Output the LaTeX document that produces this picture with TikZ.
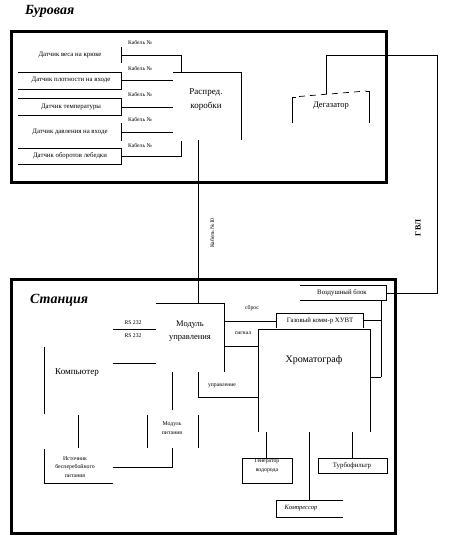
\documentclass[tikz,border=0pt]{standalone}
\usepackage{fontspec}
\setmainfont{Liberation Serif}
\begin{document}
\begin{tikzpicture}[x=1pt,y=-1pt,
  ln/.style={line width=0.7pt},
  frame/.style={line width=3pt},
  small/.style={font=\fontsize{6.8}{8.5}\selectfont,inner sep=0pt,align=center},
  tiny/.style={font=\fontsize{5.7}{7}\selectfont,inner sep=0pt,align=center},
  mid/.style={font=\fontsize{8.5}{13}\selectfont,inner sep=0pt,align=center},
  ttl/.style={font=\fontsize{14}{15}\selectfont\bfseries\itshape,inner sep=0pt,anchor=west}]
\useasboundingbox (0,0) rectangle (449,544);

% ---------- Буровая ----------
\node[ttl] (bur) at (25,11) {Буровая};
\draw[frame] (11,31) rectangle (386,182);

\node[small] (s1) at (70,55) {Датчик веса на крюке};
\node[small] (s2) at (71,80) {Датчик плотности на входе};
\node[small] (s3) at (71,107) {Датчик температуры};
\node[small] (s4) at (70,132) {Датчик давления на входе};
\node[small] (s5) at (70,156) {Датчик оборотов лебедки};

\draw[ln] (121,47) -- (121,63);
\draw[ln] (18,72) -- (121,72) -- (121,89) -- (18,89);
\draw[ln] (18,98) -- (121,98) -- (121,115) -- (18,115);
\draw[ln] (121,123) -- (121,141);
\draw[ln] (18,148) -- (121,148) -- (121,164) -- (18,164);

\draw[ln] (121,55) -- (181,55) -- (181,72);
\draw[ln] (121,80) -- (173,80);
\draw[ln] (121,107) -- (173,107);
\draw[ln] (121,132) -- (173,132);
\draw[ln] (121,156) -- (181,156) -- (181,141);

\node[tiny] (c1) at (140,42) {Кабель №};
\node[tiny] (c2) at (140,68) {Кабель №};
\node[tiny] (c3) at (140,94) {Кабель №};
\node[tiny] (c4) at (140,119) {Кабель №};
\node[tiny] (c5) at (140,145) {Кабель №};

\draw[ln] (173,72) -- (241,72) -- (241,140);
\node[mid,font=\fontsize{9}{14}\selectfont] (rk) at (206,100) {Распред.\\коробки};

% Дегазатор
\draw[ln] (292,123) -- (292,97) -- (296,97);
\draw[ln,dash pattern=on 6pt off 5pt] (299,96.5) -- (366,91);
\draw[ln] (366,91) -- (369,91) -- (369,123);
\node[mid] (deg) at (331,106) {Дегазатор};

% ГВЛ
\draw[ln] (326,94) -- (326,55) -- (437,55) -- (437,293) -- (386,293);
\node[font=\fontsize{8}{8}\selectfont\bfseries,inner sep=0pt,rotate=90] (gvl) at (418,228) {ГВЛ};

% кабель
\draw[ln] (198,140) -- (198,303);
\node[tiny,rotate=90] (c10) at (212,233) {Кабель №10};

% ---------- Станция ----------
\draw[frame] (11,279) rectangle (395,533);
\node[ttl] (st) at (30,300) {Станция};

% Модуль управления
\draw[ln] (156,303) -- (224,303) -- (224,372);
\node[mid] (mu) at (190,331) {Модуль\\управления};

% RS 232
\draw[ln] (113,329) -- (156,329);
\draw[ln] (113,363) -- (156,363);
\node[tiny] (rs1) at (133,323) {RS 232};
\node[tiny] (rs2) at (133,336) {RS 232};

% Компьютер
\draw[ln] (44,347) -- (44,414);
\node[mid,font=\fontsize{9}{10}\selectfont] (pc) at (77,373) {Компьютер};
\draw[ln] (78,415) -- (78,448);

% ИБП
\draw[ln] (44,449) -- (44,483) -- (113,483);
\node[tiny,font=\fontsize{5.8}{8.5}\selectfont] (ups) at (75,467) {Источник\\бесперебойного\\питания};
\draw[ln] (113,467) -- (172,467) -- (172,448);

% Модуль питания
\draw[ln] (147,415) -- (147,448);
\draw[ln] (198,415) -- (198,448);
\node[tiny,font=\fontsize{5.8}{9}\selectfont] (mp) at (172,428) {Модуль\\питания};
\draw[ln] (172,372) -- (172,410);

% управление
\draw[ln] (198,372) -- (198,397) -- (258,397);
\node[tiny] (upr) at (222,386) {управление};

% Газовый
\draw[ln] (224,321) -- (276,321);
\draw[ln] (276,328) -- (276,313) -- (363,313) -- (363,328);
\node[small] (gaz) at (320,321) {Газовый комм-р ХУВТ};
\node[tiny] (sbr) at (252,308) {сброс};

% сигнал
\draw[ln] (224,346) -- (258,346);
\node[tiny] (sig) at (243,333) {сигнал};

% Хроматограф
\draw[ln] (258,432) -- (258,329) -- (370,329) -- (370,432);
\node[mid,font=\fontsize{10}{11}\selectfont] (chr) at (314,360) {Хроматограф};

% Воздушный блок
\draw[ln] (300,285) -- (386,285) -- (386,300) -- (300,300);
\node[small] (air) at (342,293) {Воздушный блок};
\draw[ln] (381,300) -- (381,377);
\draw[ln] (363,320) -- (381,320);
\draw[ln] (370,377) -- (381,377);

% Генератор водорода
\draw[ln] (242,458) rectangle (292,483);
\node[tiny,font=\fontsize{5.8}{9}\selectfont] (gen) at (267,466) {Генератор\\водорода};
\draw[ln] (266,432) -- (266,458);

% Турбофильтр
\draw[ln] (318,458) rectangle (387,473);
\node[small] (tf) at (352,466) {Турбофильтр};
\draw[ln] (352,432) -- (352,458);

% Компрессор
\draw[ln] (343,500) -- (276,500) -- (276,517) -- (343,517);
\node[small,font=\fontsize{6.5}{8}\selectfont\itshape] (cmp) at (301,508) {Компрессор};
\draw[ln] (309,432) -- (309,500);
\end{tikzpicture}
\end{document}
